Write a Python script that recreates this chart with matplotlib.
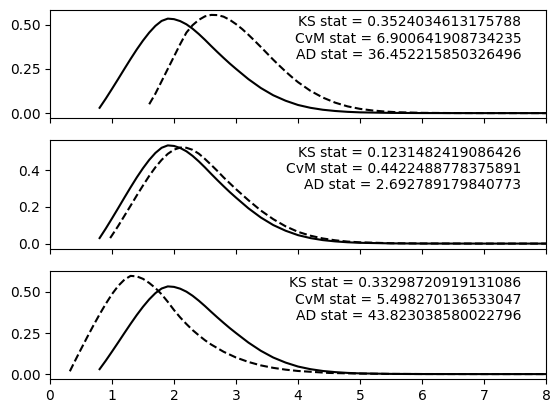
import numpy as np
import matplotlib
matplotlib.use('Agg')
import matplotlib.pyplot as plt

# reference density (solid line, same in every panel)
x_ref = [0.8, 0.9, 1.0, 1.1, 1.2, 1.3, 1.4, 1.5, 1.6, 1.7, 1.8, 1.9, 2.0, 2.1, 2.2, 2.3,
         2.4, 2.5, 2.6, 2.7, 2.8, 2.9, 3.0, 3.2, 3.4, 3.6, 3.8, 4.0, 4.2, 4.4, 4.6, 4.8,
         5.0, 5.5, 6.0, 7.0, 8.0]
y_ref = [0.030, 0.082, 0.137, 0.193, 0.250, 0.306, 0.360, 0.410, 0.455, 0.493, 0.521, 0.534,
         0.531, 0.520, 0.502, 0.477, 0.447, 0.414, 0.379, 0.345, 0.312, 0.280, 0.250, 0.192,
         0.142, 0.101, 0.070, 0.046, 0.030, 0.019, 0.012, 0.0072, 0.0043, 0.0012, 0.0003,
         0.00002, 0.0]

# fitted densities (dashed lines)
x_fit1 = [1.6, 1.7, 1.8, 1.9, 2.0, 2.1, 2.2, 2.3, 2.4, 2.5, 2.6, 2.7, 2.8, 2.9, 3.0, 3.1,
          3.2, 3.3, 3.4, 3.5, 3.6, 3.7, 3.8, 3.9, 4.0, 4.2, 4.4, 4.6, 4.8, 5.0, 5.2, 5.4,
          5.6, 6.0, 6.5, 7.0, 8.0]
y_fit1 = [0.05, 0.11, 0.18, 0.25, 0.32, 0.39, 0.455, 0.497, 0.527, 0.547, 0.555, 0.554,
          0.545, 0.527, 0.503, 0.475, 0.443, 0.409, 0.374, 0.338, 0.302, 0.268, 0.235,
          0.204, 0.175, 0.126, 0.088, 0.059, 0.038, 0.024, 0.015, 0.009, 0.005, 0.0015,
          0.0003, 0.00005, 0.0]

x_fit2 = [0.97, 1.0, 1.1, 1.2, 1.3, 1.4, 1.5, 1.6, 1.7, 1.8, 1.9, 2.0, 2.1, 2.2, 2.3, 2.4,
          2.5, 2.6, 2.7, 2.8, 2.9, 3.0, 3.2, 3.4, 3.6, 3.8, 4.0, 4.2, 4.4, 4.6, 4.8, 5.0,
          5.5, 6.0, 7.0, 8.0]
y_fit2 = [0.030, 0.045, 0.096, 0.151, 0.206, 0.262, 0.316, 0.368, 0.415, 0.455, 0.488,
          0.511, 0.522, 0.521, 0.510, 0.489, 0.460, 0.428, 0.395, 0.360, 0.328, 0.296,
          0.236, 0.180, 0.133, 0.094, 0.064, 0.043, 0.028, 0.018, 0.011, 0.007, 0.002,
          0.0006, 0.00005, 0.0]

x_fit3 = [0.32, 0.4, 0.5, 0.6, 0.7, 0.8, 0.9, 1.0, 1.1, 1.2, 1.3, 1.4, 1.5, 1.6, 1.7, 1.8,
          1.9, 2.0, 2.1, 2.2, 2.3, 2.4, 2.5, 2.6, 2.8, 3.0, 3.2, 3.4, 3.6, 3.8, 4.0, 4.5,
          5.0, 5.5, 6.0, 7.0, 8.0]
y_fit3 = [0.017, 0.078, 0.152, 0.225, 0.296, 0.364, 0.428, 0.487, 0.537, 0.575, 0.598, 0.595,
          0.580, 0.555, 0.524, 0.486, 0.44, 0.39, 0.345, 0.305, 0.268, 0.236, 0.206, 0.180,
          0.136, 0.101, 0.074, 0.053, 0.038, 0.027, 0.019, 0.007, 0.003, 0.001, 0.0004,
          0.0001, 0.0]

stats = [
    (0.3524034613175788, 6.900641908734235, 36.452215850326496),
    (0.1231482419086426, 0.4422488778375891, 2.692789179840773),
    (0.33298720919131086, 5.498270136533047, 43.823038580022796),
]

fits = [(x_fit1, y_fit1), (x_fit2, y_fit2), (x_fit3, y_fit3)]

fig, axes = plt.subplots(3, 1, sharex=True, figsize=(5.6, 4.13), dpi=100)
fig.subplots_adjust(left=50/560, right=546/560, top=1 - 10/413, bottom=1 - 379/413,
                    hspace=0.208)

for ax, (xf, yf), (ks, cvm, ad) in zip(axes, fits, stats):
    ax.plot(x_ref, y_ref, 'k-')
    ax.plot(xf, yf, 'k--')
    ax.text(0.95, 0.95, f'KS stat = {ks}\nCvM stat = {cvm}\nAD stat = {ad}',
            ha='right', va='top', transform=ax.transAxes)
    ax.set_xlim(0, 8)

fig.savefig('out.png', dpi=100)
